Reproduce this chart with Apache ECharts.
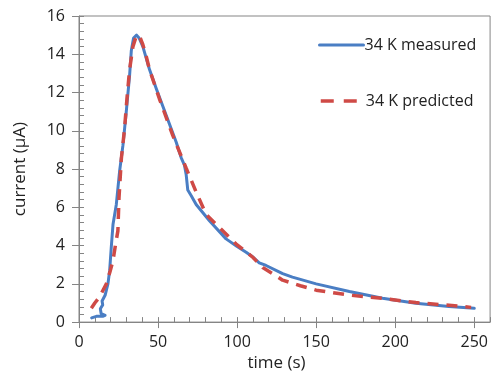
<!DOCTYPE html>
<html>
<head>
<meta charset="utf-8">
<script src="https://cdn.jsdelivr.net/npm/echarts@6/dist/echarts.min.js"></script>
<style>
html,body{margin:0;padding:0;background:#fff;}
#chart{width:491px;height:377px;}
</style>
</head>
<body>
<div id="chart"></div>
<script>
// Data
const measuredTime = [8, 11, 15, 16.5, 14, 13.5, 15, 14.6, 16.5, 18.3, 19.4, 20.4, 21.5, 23.6, 25.7, 27.8, 29.9, 32, 33.1, 34.5, 36.4, 38, 40.4, 44.6, 48.9, 55.2, 61.5, 64.6, 66.7, 67.8, 68.8, 71, 74.1, 82.5, 93, 100, 105.7, 110, 114, 118.3, 128.8, 135, 150, 171, 192, 213, 234, 250];
const measuredCurrent = [0.22, 0.3, 0.3, 0.35, 0.45, 0.7, 0.9, 1.1, 1.4, 2.0, 2.7, 3.9, 5.1, 6.15, 7.9, 9.25, 11.0, 12.9, 14.2, 14.85, 15.0, 14.85, 14.4, 13.2, 12.2, 10.8, 9.4, 8.6, 8.2, 7.7, 6.9, 6.6, 6.15, 5.3, 4.35, 3.95, 3.65, 3.4, 3.1, 2.96, 2.53, 2.35, 2.0, 1.6, 1.25, 0.98, 0.81, 0.72];
const predictedTime = [7.8, 10, 13.1, 17.3, 19.5, 21.5, 23, 24.6, 25.3, 26.8, 28.8, 30.3, 32, 34.1, 36.4, 38.5, 40.4, 42.5, 44.6, 50.9, 59.3, 67.8, 74.1, 80.4, 88.8, 99.4, 109.9, 116.2, 122.5, 128.8, 140, 150, 171, 192, 213, 234, 248];
const predictedCurrent = [0.72, 1.0, 1.33, 2.0, 2.6, 3.22, 4.0, 4.77, 6.5, 8.56, 10.1, 11.66, 13.2, 14.4, 15.0, 14.9, 14.5, 13.9, 13.2, 11.66, 9.76, 8.04, 6.8, 5.63, 4.94, 4.08, 3.39, 2.85, 2.53, 2.19, 1.9, 1.67, 1.41, 1.24, 1.02, 0.88, 0.77];
const seriesNames = ['34 K measured', '34 K predicted'];
const xTicks = [0, 50, 100, 150, 200, 250];
const yTicks = [0, 2, 4, 6, 8, 10, 12, 14, 16];

const pair = (xs, ys) => xs.map((x, i) => [x, ys[i]]);
const FONT = '"Open Sans", sans-serif';
const AX = '#858585';
const TXT = '#222';

const chart = echarts.init(document.getElementById('chart'), null, {renderer: 'canvas'});
chart.setOption({
  animation: false,
  backgroundColor: '#fff',
  grid: {left: 79, right: -1, top: 16, bottom: 51, show: true, borderColor: AX, borderWidth: 1, backgroundColor: 'transparent'},
  legend: [
    {data: [seriesNames[0]], left: 313, top: 32, orient: 'vertical', itemWidth: 44, itemHeight: 14,
     itemStyle: {opacity: 0}, lineStyle: {opacity: 1, width: 3},
     textStyle: {fontFamily: FONT, fontSize: 16, color: TXT, padding: [0, 0, 0, -4]}},
    {data: [seriesNames[1]], left: 314, top: 88, orient: 'vertical', itemWidth: 36, itemHeight: 14,
     itemStyle: {opacity: 0}, lineStyle: {opacity: 1, width: 3.5, type: [13, 10]},
     textStyle: {fontFamily: FONT, fontSize: 16, color: TXT, padding: [0, 0, 0, 4]}}
  ],
  xAxis: [
    {type: 'value', min: xTicks[0], max: 260, interval: xTicks[1] - xTicks[0], position: 'bottom',
     name: 'time (s)', nameLocation: 'middle', nameGap: 32,
     nameTextStyle: {fontFamily: FONT, fontSize: 17, color: TXT, padding: [0, 16, 0, 0]},
     axisLine: {show: true, lineStyle: {color: AX, width: 1}},
     axisTick: {show: true, inside: false, length: 6, lineStyle: {color: AX}},
     axisLabel: {fontFamily: FONT, fontSize: 16, color: TXT, margin: 12, showMaxLabel: false},
     splitLine: {show: false}},
    {type: 'value', min: xTicks[0], max: 260, interval: 10, position: 'bottom',
     axisLine: {show: false}, axisTick: {show: true, inside: true, length: 5, lineStyle: {color: AX}},
     axisLabel: {show: false}, splitLine: {show: false}}
  ],
  yAxis: [
    {type: 'value', min: yTicks[0], max: yTicks[yTicks.length - 1], interval: yTicks[1] - yTicks[0], position: 'left',
     name: 'current (µA)', nameLocation: 'middle', nameGap: 50, nameRotate: 90,
     nameTextStyle: {fontFamily: FONT, fontSize: 17, color: TXT},
     axisLine: {show: true, lineStyle: {color: AX, width: 1}},
     axisTick: {show: true, inside: false, length: 7, lineStyle: {color: AX}},
     axisLabel: {fontFamily: FONT, fontSize: 16, color: TXT, margin: 14},
     splitLine: {show: false}},
    {type: 'value', min: 0, max: 16, interval: 0.4, position: 'left',
     axisLine: {show: false}, axisTick: {show: true, inside: true, length: 5, lineStyle: {color: AX}},
     axisLabel: {show: false}, splitLine: {show: false}}
  ],
  series: [
    {name: seriesNames[0], type: 'line', xAxisIndex: 0, yAxisIndex: 0, symbol: 'none', showSymbol: false,
     data: pair(measuredTime, measuredCurrent), z: 2,
     lineStyle: {color: '#4a7ec4', width: 3, cap: 'round', join: 'round'}, itemStyle: {color: '#4a7ec4'}},
    {name: seriesNames[1], type: 'line', xAxisIndex: 0, yAxisIndex: 0, symbol: 'none', showSymbol: false,
     data: pair(predictedTime, predictedCurrent), z: 3,
     lineStyle: {color: '#cf4a46', width: 3.5, type: [11, 8], cap: 'butt'}, itemStyle: {color: '#cf4a46'}}
  ]
});
</script>
</body>
</html>
